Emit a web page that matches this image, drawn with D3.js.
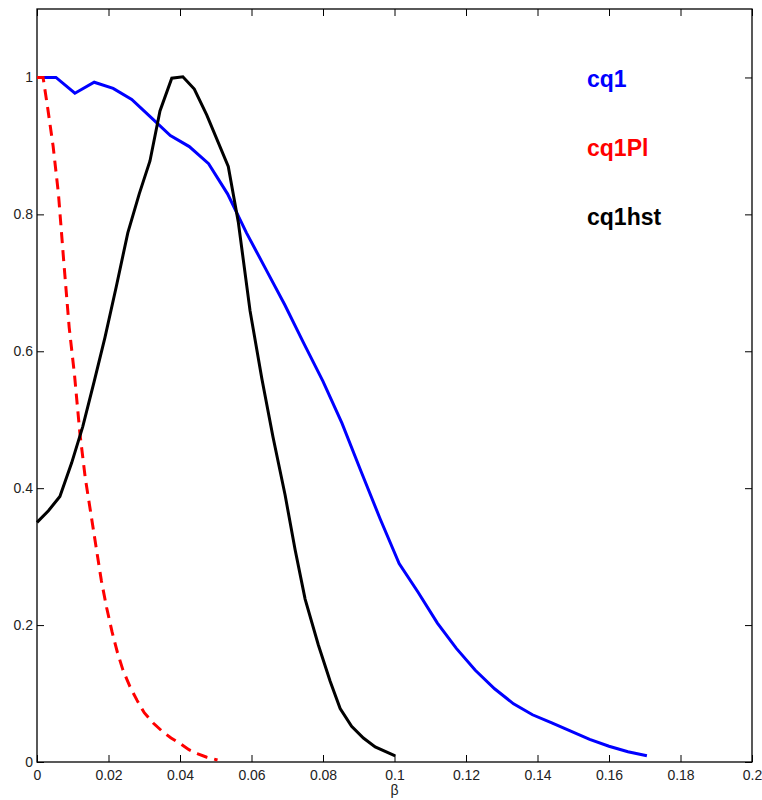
<!DOCTYPE html>
<html>
<head>
<meta charset="utf-8">
<script src="https://cdn.jsdelivr.net/npm/d3@7"></script>
<style>
    body { margin: 0; background: #fff; }
    svg text { font-family: Arial, "Liberation Sans", sans-serif; }
</style>
</head>
<body>
<svg id="chart"></svg>
<script>
// series values
const cq1 = [
    [0, 1], [0.0053, 1], [0.0106, 0.977], [0.016, 0.993], [0.0213, 0.984],
    [0.0265, 0.968], [0.0318, 0.942], [0.0373, 0.915], [0.0426, 0.899], [0.048, 0.874],
    [0.0533, 0.83], [0.0586, 0.773], [0.064, 0.72], [0.0693, 0.668], [0.0746, 0.612],
    [0.08, 0.556], [0.0853, 0.495], [0.0906, 0.425], [0.096, 0.355], [0.1013, 0.29],
    [0.1066, 0.248], [0.112, 0.203], [0.1173, 0.166], [0.1226, 0.134], [0.128, 0.107],
    [0.1333, 0.085], [0.1386, 0.069], [0.144, 0.057], [0.1493, 0.045], [0.1546, 0.033],
    [0.16, 0.023], [0.1653, 0.015], [0.1706, 0.009]
];

const cq1Pl = [
    [0, 1], [0.0017, 1], [0.003, 0.955], [0.0045, 0.9], [0.006, 0.83],
    [0.0075, 0.73], [0.009, 0.635], [0.0105, 0.565], [0.012, 0.48], [0.0135, 0.415],
    [0.015, 0.365], [0.0165, 0.315], [0.018, 0.265], [0.0195, 0.225], [0.021, 0.19],
    [0.0225, 0.16], [0.024, 0.135], [0.026, 0.11], [0.028, 0.09], [0.03, 0.072],
    [0.0325, 0.057], [0.035, 0.045], [0.0375, 0.035], [0.04, 0.027], [0.0425, 0.018],
    [0.045, 0.012], [0.0475, 0.007], [0.0505, 0.003]
];

const cq1hst = [
    [0, 0.35], [0.0032, 0.367], [0.0064, 0.388], [0.0097, 0.437], [0.0128, 0.49],
    [0.016, 0.556], [0.019, 0.62], [0.0222, 0.695], [0.0254, 0.773], [0.0286, 0.83],
    [0.0316, 0.878], [0.0344, 0.951], [0.0377, 0.999], [0.0408, 1.001], [0.044, 0.983],
    [0.0475, 0.945], [0.0535, 0.87], [0.0563, 0.789], [0.0596, 0.659], [0.0629, 0.56],
    [0.066, 0.475], [0.0694, 0.39], [0.0722, 0.31], [0.075, 0.238], [0.0787, 0.171],
    [0.082, 0.118], [0.0848, 0.078], [0.088, 0.052], [0.0913, 0.035], [0.0946, 0.022],
    [0.1002, 0.009]
];

const xTicks = [0, 0.02, 0.04, 0.06, 0.08, 0.1, 0.12, 0.14, 0.16, 0.18, 0.2];
const yTicks = [0, 0.2, 0.4, 0.6, 0.8, 1];

const series = [
    { name: 'cq1', values: cq1, color: '#0000ff', dash: null },
    { name: 'cq1Pl', values: cq1Pl, color: '#ff0000', dash: '11,7' },
    { name: 'cq1hst', values: cq1hst, color: '#000000', dash: null }
];

const width = 762;
const height = 800;
const margin = { top: 9, right: 10, bottom: 38, left: 37 };
const w = width - margin.left - margin.right;
const h = height - margin.top - margin.bottom;

const svg = d3.select('#chart')
    .attr('width', width)
    .attr('height', height);

const g = svg.append('g')
    .attr('transform', `translate(${margin.left},${margin.top})`);

const x = d3.scaleLinear().domain([0, 0.2]).range([0, w]);
const y = d3.scaleLinear().domain([0, 1.1]).range([h, 0]);

const fmt = d => String(+d.toFixed(2));

// axes with inward ticks on all four sides
g.append('g')
    .attr('transform', `translate(0,${h})`)
    .call(d3.axisBottom(x).tickValues(xTicks).tickSizeInner(-7).tickSizeOuter(0).tickPadding(8).tickFormat(fmt));
g.append('g')
    .call(d3.axisTop(x).tickValues(xTicks).tickSizeInner(-7).tickSizeOuter(0).tickFormat(''));
g.append('g')
    .call(d3.axisLeft(y).tickValues(yTicks).tickSizeInner(-7).tickSizeOuter(0).tickPadding(4).tickFormat(fmt));
g.append('g')
    .attr('transform', `translate(${w},0)`)
    .call(d3.axisRight(y).tickValues(yTicks).tickSizeInner(-7).tickSizeOuter(0).tickFormat(''));

g.selectAll('.domain').remove();
g.selectAll('.tick line').attr('stroke', '#000');
g.selectAll('.tick text')
    .attr('fill', '#222')
    .style('font-size', '14px');

g.append('rect')
    .attr('width', w)
    .attr('height', h)
    .attr('fill', 'none')
    .attr('stroke', '#000')
    .attr('stroke-width', 1.3);

const line = d3.line()
    .x(d => x(d[0]))
    .y(d => y(d[1]));

g.selectAll('.series')
    .data(series)
    .enter().append('path')
    .attr('class', 'series')
    .attr('d', d => line(d.values))
    .attr('fill', 'none')
    .attr('stroke', d => d.color)
    .attr('stroke-width', 3)
    .attr('stroke-dasharray', d => d.dash);

// legend labels
g.selectAll('.label')
    .data(series)
    .enter().append('text')
    .attr('class', 'label')
    .attr('x', 550)
    .attr('y', (d, i) => 78 + i * 69)
    .attr('fill', d => d.color)
    .style('font-size', '23px')
    .style('font-weight', 'bold')
    .text(d => d.name);

g.append('text')
    .attr('x', w / 2)
    .attr('y', h + 33)
    .attr('text-anchor', 'middle')
    .attr('fill', '#222')
    .style('font-size', '14px')
    .text('β');
</script>
</body>
</html>
